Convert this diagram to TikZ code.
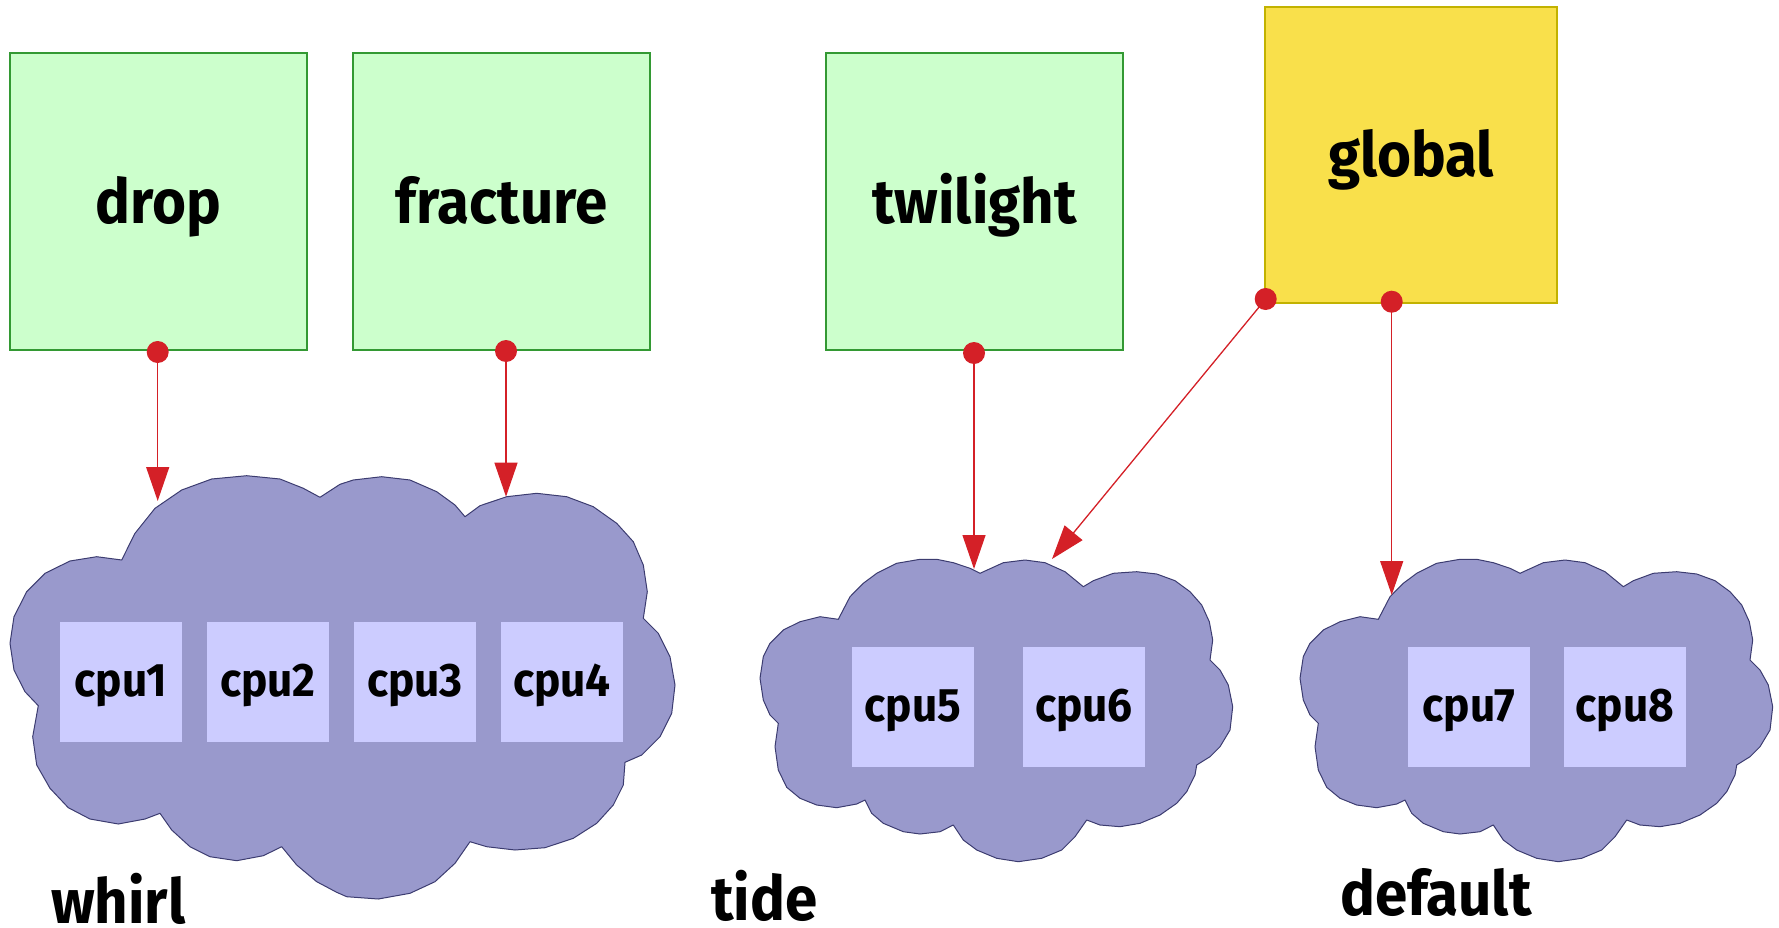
\documentclass[tikz,border=0pt]{standalone}
\usepackage{fontspec}
\newfontfamily\lblfont{Fira Sans}[FakeStretch=0.94]
\usetikzlibrary{arrows.meta}
\definecolor{boxgreen}{HTML}{CCFFCC}
\definecolor{boxgreenline}{HTML}{339933}
\definecolor{boxyellow}{HTML}{F9E04B}
\definecolor{boxyellowline}{HTML}{C2B200}
\definecolor{cloudfill}{HTML}{9999CC}
\definecolor{cloudline}{HTML}{3C3C70}
\definecolor{cpufill}{HTML}{CCCCFF}
\definecolor{linkred}{HTML}{D42027}
\tikzset{
  titlebox/.style={draw=boxgreenline, fill=boxgreen, line width=1.2pt, inner sep=0pt,
    minimum width=297pt, minimum height=297pt, text height=44pt, text depth=0pt,
    font=\lblfont\bfseries\fontsize{62}{70}\selectfont},
  globalbox/.style={titlebox, draw=boxyellowline, fill=boxyellow, minimum width=292pt, minimum height=296pt},
  cpubox/.style={fill=cpufill, inner sep=0pt, minimum width=122pt, minimum height=120pt,
    text height=30pt, text depth=0.6pt, font=\lblfont\bfseries\fontsize{47}{52}\selectfont},
  cloudshape/.style={fill=cloudfill, draw=cloudline, line width=1pt, line join=round},
  dot/.style={circle, fill=linkred, inner sep=0pt, minimum size=22pt},
  link/.style={draw=linkred, line width=1.3pt, -{Triangle[length=34pt,width=23pt]}},
  grouplabel/.style={anchor=base, inner sep=0pt, text depth=0pt, font=\lblfont\bfseries\fontsize{62}{70}\selectfont}
}
\begin{document}
\begin{tikzpicture}[x=1pt,y=-1pt]
\useasboundingbox (0,0) rectangle (1779,928);

% clouds
\draw[cloudshape] (121.7,560) -- (135,533.3) -- (155,508.3) -- (181.7,490) -- (211.7,479) -- (246.7,475.7)
 -- (280,479) -- (303.3,488.3) -- (320,497.3) -- (340,484.3) -- (353.3,480) -- (381.7,476.7) -- (410,480)
 -- (436.7,491.7) -- (455,505) -- (465,516.7) -- (480,505.7) -- (506.7,496.7) -- (536.7,493.3) -- (566.7,496.7)
 -- (593.3,506.7) -- (616.7,523.3) -- (633.3,541.7) -- (643.3,565) -- (647.3,591.7) -- (643.3,618.3)
 -- (658.3,633.3) -- (670,656.7) -- (675,685) -- (671.7,713.3) -- (660,736.7) -- (641.7,755) -- (625,762.3)
 -- (623.3,785) -- (613.3,805) -- (596.7,823.3) -- (573.3,838.3) -- (545,847.7) -- (515,850) -- (486.7,846.7)
 -- (470,841.7) -- (455,863.3) -- (435,881.7) -- (410,893.3) -- (378.3,899) -- (346.7,896.7) -- (336.7,892.3)
 -- (316.7,881.7) -- (296.7,865) -- (281.7,846.7) -- (263.3,855.7) -- (236.7,860.7) -- (210,856.7)
 -- (190,846.7) -- (171.7,830) -- (160,813.3) -- (145,819) -- (118.3,824) -- (90,819) -- (68.3,807.7)
 -- (50,788.3) -- (36.7,765) -- (32.7,736.7) -- (38.3,705.7) -- (25,691.7) -- (14,670) -- (10,643.3)
 -- (14,616.7) -- (26.7,591.7) -- (45,573.3) -- (70,561) -- (96.7,556.7) -- cycle;

\foreach \dx in {0pt,540pt}{
\begin{scope}[xshift=\dx]
\draw[cloudshape] (980,573.3) -- (1003.3,562.7) -- (1025,560) -- (1045,562.7) -- (1065,571.7) -- (1083.3,586.7)
 -- (1093.3,580.7) -- (1113.3,573.3) -- (1136.7,571.7) -- (1156.7,574) -- (1175,580.7) -- (1190,591.7)
 -- (1201.7,605) -- (1209.3,621.7) -- (1212.7,640) -- (1210,660) -- (1220,670) -- (1228.3,685) -- (1232.7,706.7)
 -- (1230,730) -- (1220,746.7) -- (1210,756.7) -- (1196.7,765) -- (1195,775) -- (1186.7,791.7) -- (1176.7,803.3)
 -- (1160,815) -- (1140,823.3) -- (1120,826.7) -- (1100,825) -- (1086.7,820) -- (1075,836.7) -- (1061.7,850)
 -- (1041.7,858.3) -- (1018.3,861.7) -- (996.7,858.3) -- (976.7,850) -- (963.3,840) -- (953.3,825)
 -- (940,831.7) -- (920,834) -- (903.3,831.7) -- (883.3,823.3) -- (871.7,813.3) -- (865,800) -- (856.7,804)
 -- (836.7,807.7) -- (816.7,805) -- (800,798.3) -- (786.7,787.3) -- (778.3,770) -- (775,746.7) -- (778.3,723.3)
 -- (770,715) -- (763.3,700) -- (760,678.3) -- (763.3,656.7) -- (770,643.3) -- (783.3,630) -- (800,621.7)
 -- (820,616.7) -- (838.3,619.3) -- (850,596.7) -- (863.3,583.3) -- (876.7,573.3) -- (896.7,563.3)
 -- (920,559.3) -- (936.7,559.3) -- (953.3,562.7) -- (970,568.3) -- cycle;
\end{scope}
}

% cpu boxes
\node[cpubox] (cpu1) at (121,682) {cpu1};
\node[cpubox] (cpu2) at (268,682) {cpu2};
\node[cpubox] (cpu3) at (415,682) {cpu3};
\node[cpubox] (cpu4) at (562,682) {cpu4};
\node[cpubox] (cpu5) at (913,707) {cpu5};
\node[cpubox] (cpu6) at (1084,707) {cpu6};
\node[cpubox] (cpu7) at (1469,707) {cpu7};
\node[cpubox] (cpu8) at (1625,707) {cpu8};

% group labels
\node[grouplabel] (whirl) at (118.3,923.3) {whirl};
\node[grouplabel] (tide) at (764.5,920) {tide};
\node[grouplabel] (default) at (1436,915) {default};

% title boxes
\node[titlebox] (drop) at (158.5,201.5) {drop};
\node[titlebox] (fracture) at (501.5,201.5) {fracture};
\node[titlebox] (twilight) at (974.5,201.5) {twilight};
\node[globalbox] (global) at (1411,155) {global};

% entry points on clouds
\coordinate (whirlA) at (157.7,501);
\coordinate (whirlB) at (506,496.7);
\coordinate (tideA) at (974,569);
\coordinate (tideB) at (1052,559);
\coordinate (defaultA) at (1391.7,595);

% dots
\node[dot] (dropdot) at (157.7,352) {};
\node[dot] (fracturedot) at (506,351) {};
\node[dot] (twilightdot) at (974,353) {};
\node[dot] (globaldotA) at (1265.7,299) {};
\node[dot] (globaldotB) at (1391.7,301.7) {};

% links
\draw[link] (dropdot.center) -- (whirlA);
\draw[link] (fracturedot.center) -- (whirlB);
\draw[link] (twilightdot.center) -- (tideA);
\draw[link] (globaldotA.center) -- (tideB);
\draw[link] (globaldotB.center) -- (defaultA);
\end{tikzpicture}
\end{document}
